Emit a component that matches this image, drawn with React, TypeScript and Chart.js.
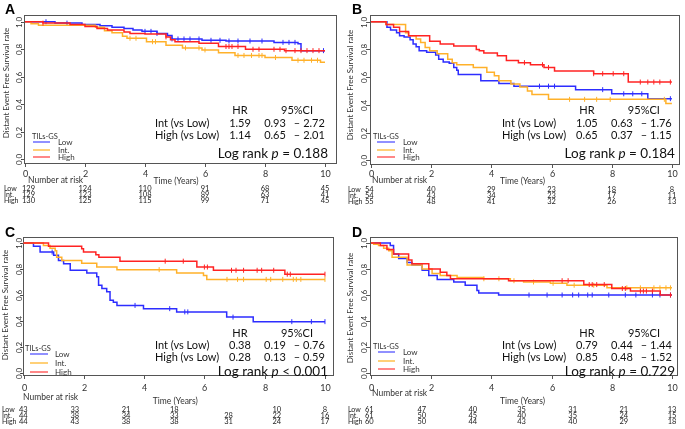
import React, { useEffect, useRef } from 'react';
import { Chart, registerables } from 'chart.js';

Chart.register(...registerables);

const FONT = 'Lato, "Open Sans", sans-serif';
const LETTER_FONT = '"Liberation Sans", Arial, sans-serif';

// ---------- shared ----------
const timeTicks = [0, 2, 4, 6, 8, 10];
const survTicks = [0, 0.2, 0.4, 0.6, 0.8, 1.0];
const groupLabels = ['Low', 'Int.', 'High'];
const lineColors = ['#2d2dff', '#ffb12a', '#ff2323'];
const legendColors = ['#6b6bff', '#ffc04a', '#ff6060'];
const yTitle = 'Distant Event Free Survival rate';
const xTitle = 'Time (Years)';
const riskTitle = 'Number at risk';
const legendTitle = 'TILs-GS';
const hrRowLabels = ['Int (vs Low)', 'High (vs Low)'];

// ---------- Panel A ----------
const aLowT = [0, 1.0, 1.9, 2.5, 2.9, 3.3, 3.6, 3.9, 4.4, 4.75, 4.9, 5.9, 6.7, 8.3, 9.1, 9.2, 10];
const aLowS = [1, 0.99, 0.98, 0.97, 0.96, 0.95, 0.94, 0.93, 0.915, 0.9, 0.875, 0.865, 0.86, 0.85, 0.84, 0.79, 0.79];
const aLowC = [0.7, 1.4, 4.0, 4.2, 4.4, 4.9, 5.1, 5.3, 5.5, 5.8, 6.2, 6.5, 6.8, 7.1, 7.5, 7.9, 8.6, 8.8, 9.0, 9.95];
const aIntT = [0, 0.2, 0.45, 2.35, 2.65, 2.9, 3.25, 3.4, 4.05, 4.7, 5.25, 5.9, 6.45, 7.0, 8.0, 8.9, 9.85, 10];
const aIntS = [1, 0.985, 0.975, 0.96, 0.935, 0.92, 0.895, 0.88, 0.855, 0.83, 0.81, 0.795, 0.775, 0.755, 0.74, 0.72, 0.705, 0.705];
const aIntC = [3.5, 3.7, 4.25, 4.35, 5.35, 5.8, 6.0, 7.1, 7.3, 7.55, 7.8, 7.9, 8.35, 9.1, 9.3, 9.55, 9.75];
const aHighT = [0, 0.6, 1.5, 2.0, 2.4, 2.75, 3.3, 3.5, 4.0, 4.7, 4.85, 5.0, 5.8, 6.45, 7.35, 8.65, 10];
const aHighS = [1, 0.99, 0.98, 0.965, 0.95, 0.94, 0.925, 0.915, 0.91, 0.89, 0.87, 0.855, 0.843, 0.82, 0.8, 0.79, 0.79];
const aHighC = [0.6, 4.7, 6.7, 6.8, 6.9, 7.1, 7.6, 7.8, 8.3, 8.5, 8.7, 9.0, 9.2, 9.4, 9.6, 9.8];
const aHR = ['1.59', '1.14'];
const aCILow = ['0.93', '0.65'];
const aCIHigh = ['2.72', '2.01'];
const aP = '= 0.188';
const aRiskTimes = [0, 2, 4, 6, 8, 10];
const aRiskLow = [129, 124, 110, 91, 68, 45];
const aRiskInt = [129, 123, 108, 89, 63, 41];
const aRiskHigh = [130, 125, 115, 99, 71, 45];

// ---------- Panel B ----------
const bLowT = [0, 0.53, 0.65, 0.85, 0.95, 1.1, 1.3, 1.4, 1.5, 1.6, 1.85, 2.15, 2.25, 2.4, 2.6, 2.75, 2.85, 2.9, 3.65, 4.25, 4.75, 6.8, 8.0, 9.2, 10];
const bLowS = [1, 0.96, 0.94, 0.92, 0.9, 0.89, 0.87, 0.84, 0.82, 0.79, 0.78, 0.76, 0.73, 0.71, 0.7, 0.67, 0.65, 0.62, 0.575, 0.555, 0.535, 0.51, 0.48, 0.445, 0.445];
const bLowC = [5.6, 5.9, 6.1, 7.7, 8.4, 8.7, 9.0, 9.95];
const bIntT = [0, 0.5, 1.15, 1.25, 1.5, 1.65, 1.8, 1.95, 2.2, 2.55, 2.7, 2.85, 3.4, 3.85, 4.1, 4.25, 4.65, 4.95, 5.2, 5.35, 5.9, 9.8, 10];
const bIntS = [1, 0.98, 0.92, 0.9, 0.875, 0.85, 0.815, 0.79, 0.77, 0.73, 0.705, 0.69, 0.67, 0.635, 0.61, 0.575, 0.55, 0.53, 0.5, 0.475, 0.44, 0.41, 0.41];
const bIntC = [6.6, 7.1, 7.5, 7.95, 9.75];
const bHighT = [0, 0.5, 0.75, 0.95, 1.25, 1.95, 2.3, 2.75, 3.5, 3.6, 3.75, 4.2, 4.5, 4.9, 5.3, 5.75, 6.1, 7.4, 8.55, 10];
const bHighS = [1, 0.98, 0.96, 0.93, 0.9, 0.86, 0.84, 0.825, 0.8, 0.79, 0.775, 0.755, 0.72, 0.705, 0.69, 0.67, 0.645, 0.625, 0.565, 0.565];
const bHighC = [5.1, 5.7, 5.9, 7.4, 7.7, 8.05, 8.4, 8.95, 9.2, 9.4, 9.6, 9.95];
const bHR = ['1.05', '0.65'];
const bCILow = ['0.63', '0.37'];
const bCIHigh = ['1.76', '1.15'];
const bP = '= 0.184';
const bRiskTimes = [0, 2, 4, 6, 8, 10];
const bRiskLow = [54, 40, 29, 23, 18, 8];
const bRiskInt = [54, 43, 34, 23, 17, 11];
const bRiskHigh = [55, 48, 41, 32, 26, 13];

// ---------- Panel C ----------
const cLowT = [0, 0.33, 0.55, 1.0, 1.16, 1.33, 1.55, 2.1, 2.43, 2.49, 2.6, 2.76, 2.87, 2.98, 3.1, 3.98, 5.08, 6.74, 7.62, 10];
const cLowS = [1, 0.975, 0.93, 0.905, 0.865, 0.84, 0.79, 0.77, 0.74, 0.675, 0.65, 0.625, 0.56, 0.545, 0.52, 0.495, 0.47, 0.43, 0.395, 0.395];
const cLowC = [0.95, 3.7, 4.85, 5.35, 5.45, 6.95, 8.9, 9.55, 10];
const cIntT = [0, 0.66, 0.88, 1.05, 1.1, 1.27, 1.93, 2.43, 3.1, 5.08, 5.97, 6.08, 10];
const cIntS = [1, 0.98, 0.96, 0.94, 0.89, 0.865, 0.845, 0.815, 0.795, 0.77, 0.75, 0.72, 0.72];
const cIntC = [4.5, 6.75, 7.1, 7.3, 8.05, 8.2, 8.6, 8.95, 9.05, 9.2, 10];
const cHighT = [0, 0.83, 1.93, 1.99, 2.4, 2.5, 3.2, 5.75, 6.3, 8.67, 10];
const cHighS = [1, 0.975, 0.955, 0.93, 0.91, 0.89, 0.86, 0.815, 0.79, 0.76, 0.76];
const cHighC = [4.7, 5.3, 6.0, 6.1, 6.9, 7.05, 7.3, 7.75, 7.9, 8.3, 8.75, 8.85, 10];
const cHR = ['0.38', '0.28'];
const cCILow = ['0.19', '0.13'];
const cCIHigh = ['0.76', '0.59'];
const cP = '< 0.001';
const cRiskTimes = [0, 1.7, 3.4, 5.0, 6.8, 8.4, 10];
const cRiskLow = [43, 33, 21, 18, null, 10, 8];
const cRiskInt = [44, 38, 34, 33, 28, 22, 16];
const cRiskHigh = [44, 43, 38, 38, 31, 24, 17];

// ---------- Panel D ----------
const dLowT = [0, 0.64, 0.75, 0.92, 1.2, 1.36, 1.7, 1.92, 2.2, 2.75, 3.13, 3.52, 3.58, 4.24, 10];
const dLowS = [1, 0.98, 0.915, 0.88, 0.85, 0.83, 0.79, 0.75, 0.72, 0.7, 0.675, 0.635, 0.615, 0.6, 0.6];
const dLowC = [5.25, 5.85, 6.35, 6.7, 6.9, 7.2, 7.35, 7.9, 8.45, 8.8, 9.35, 9.6, 9.95];
const dIntT = [0, 0.09, 0.25, 0.42, 0.59, 0.7, 1.2, 1.7, 2.03, 2.3, 2.86, 3.74, 4.63, 5.07, 5.96, 6.51, 7.84, 10];
const dIntS = [1, 0.99, 0.98, 0.96, 0.94, 0.89, 0.83, 0.8, 0.765, 0.75, 0.735, 0.725, 0.71, 0.7, 0.69, 0.675, 0.655, 0.655];
const dIntC = [3.75, 4.25, 4.75, 5.4, 6.05, 6.75, 7.4, 8.5, 8.95, 9.4, 9.6, 9.8, 9.95];
const dHighT = [0, 0.31, 0.53, 0.75, 1.25, 1.36, 1.92, 2.3, 2.52, 2.64, 4.57, 7.07, 8.0, 8.62, 9.61, 10];
const dHighS = [1, 0.98, 0.95, 0.915, 0.87, 0.84, 0.8, 0.775, 0.75, 0.725, 0.71, 0.68, 0.65, 0.63, 0.6, 0.6];
const dHighC = [6.35, 6.55, 7.25, 7.35, 7.5, 7.75, 8.35, 8.45, 8.95, 9.05, 9.15, 9.35, 9.95];
const dHR = ['0.79', '0.85'];
const dCILow = ['0.44', '0.48'];
const dCIHigh = ['1.44', '1.52'];
const dP = '= 0.729';
const dRiskTimes = [0, 1.69, 3.38, 5.0, 6.7, 8.4, 10];
const dRiskLow = [61, 47, 40, 35, 31, 21, 13];
const dRiskInt = [61, 50, 45, 40, 35, 24, 15];
const dRiskHigh = [60, 50, 44, 43, 40, 29, 18];

// ---------- panel layouts ----------
type Series = { t: number[]; s: number[]; c: number[] };
type Layout = {
  x: number; y: number; w: number; h: number;
  pad: { left: number; top: number; right: number; bottom: number };
  xMin: number; xMax: number; yMin: number; yMax: number;
  letterX: number; letterY: number; yLabX: number; yTitleX: number; yTitleY: number;
  xLabY: number; timeY: number; narX: number; narY: number; rowLabX: number; firstColX: number; rowsY: number[];
  tilsX: number; tilsY: number; legX0: number; legX1: number; legTextX: number; legY: number[];
  hrHeadY: number; hrRowsY: number[]; lrY: number;
};
type PanelCfg = {
  letter: string; series: Series[]; hr: string[]; ciLow: string[]; ciHigh: string[]; p: string;
  riskTimes: number[]; risk: (number | null)[][]; lay: Layout;
};

const panels: PanelCfg[] = [
  {
    letter: 'A',
    series: [{ t: aLowT, s: aLowS, c: aLowC }, { t: aIntT, s: aIntS, c: aIntC }, { t: aHighT, s: aHighS, c: aHighC }],
    hr: aHR, ciLow: aCILow, ciHigh: aCIHigh, p: aP, riskTimes: aRiskTimes, risk: [aRiskLow, aRiskInt, aRiskHigh],
    lay: {
      x: 0, y: 0, w: 342, h: 210, pad: { left: 24, top: 15, right: 3, bottom: 46 },
      xMin: -0.033, xMax: 10.4, yMin: -0.034, yMax: 1.049,
      letterX: 5, letterY: 3, yLabX: 19, yTitleX: 6, yTitleY: 83,
      xLabY: 174, timeY: 181, narX: 28, narY: 180, rowLabX: 4, firstColX: 22, rowsY: [189, 195, 201],
      tilsX: 32, tilsY: 137, legX0: 33, legX1: 50, legTextX: 58, legY: [142, 150, 157],
      hrHeadY: 110, hrRowsY: [123, 135], lrY: 154,
    },
  },
  {
    letter: 'B',
    series: [{ t: bLowT, s: bLowS, c: bLowC }, { t: bIntT, s: bIntS, c: bIntC }, { t: bHighT, s: bHighS, c: bHighC }],
    hr: bHR, ciLow: bCILow, ciHigh: bCIHigh, p: bP, riskTimes: bRiskTimes, risk: [bRiskLow, bRiskInt, bRiskHigh],
    lay: {
      x: 342, y: 0, w: 343, h: 210, pad: { left: 28, top: 15, right: 5, bottom: 45 },
      xMin: -0.033, xMax: 10.27, yMin: -0.034, yMax: 1.049,
      letterX: 10, letterY: 3, yLabX: 22, yTitleX: 8, yTitleY: 85,
      xLabY: 174, timeY: 181, narX: 30, narY: 180, rowLabX: 6, firstColX: 23, rowsY: [190, 196, 202],
      tilsX: 31, tilsY: 137, legX0: 35, legX1: 53, legTextX: 61, legY: [142, 150, 157],
      hrHeadY: 110, hrRowsY: [123, 135], lrY: 154,
    },
  },
  {
    letter: 'C',
    series: [{ t: cLowT, s: cLowS, c: cLowC }, { t: cIntT, s: cIntS, c: cIntC }, { t: cHighT, s: cHighS, c: cHighC }],
    hr: cHR, ciLow: cCILow, ciHigh: cCIHigh, p: cP, riskTimes: cRiskTimes, risk: [cRiskLow, cRiskInt, cRiskHigh],
    lay: {
      x: 0, y: 210, w: 342, h: 219, pad: { left: 23, top: 27, right: 8, bottom: 53 },
      xMin: -0.017, xMax: 10.3, yMin: -0.023, yMax: 1.046,
      letterX: 5, letterY: 16, yLabX: 19, yTitleX: 5, yTitleY: 95,
      xLabY: 178, timeY: 191, narX: 23, narY: 187, rowLabX: 2, firstColX: 19, rowsY: [200, 206, 212],
      tilsX: 25, tilsY: 139, legX0: 30, legX1: 48, legTextX: 55, legY: [144, 153, 162],
      hrHeadY: 123, hrRowsY: [135, 147], lrY: 162,
    },
  },
  {
    letter: 'D',
    series: [{ t: dLowT, s: dLowS, c: dLowC }, { t: dIntT, s: dIntS, c: dIntC }, { t: dHighT, s: dHighS, c: dHighC }],
    hr: dHR, ciLow: dCILow, ciHigh: dCIHigh, p: dP, riskTimes: dRiskTimes, risk: [dRiskLow, dRiskInt, dRiskHigh],
    lay: {
      x: 342, y: 210, w: 343, h: 219, pad: { left: 28, top: 27, right: 7, bottom: 53 },
      xMin: -0.033, xMax: 10.2, yMin: -0.023, yMax: 1.046,
      letterX: 10, letterY: 16, yLabX: 22, yTitleX: 8, yTitleY: 98,
      xLabY: 178, timeY: 191, narX: 30, narY: 183, rowLabX: 6, firstColX: 23, rowsY: [200, 206, 212],
      tilsX: 31, tilsY: 137, legX0: 36, legX1: 53, legTextX: 61, legY: [142, 151, 159],
      hrHeadY: 123, hrRowsY: [135, 147], lrY: 162,
    },
  },
];

function survAt(t: number[], s: number[], c: number): number {
  let v = s[0];
  for (let i = 0; i < t.length; i++) if (t[i] <= c) v = s[i];
  return v;
}

function makeDecor(p: PanelCfg) {
  const L = p.lay;
  return {
    id: 'kmDecor' + p.letter,
    beforeDatasetsDraw(chart: any) {
      const { ctx, chartArea: a } = chart;
      ctx.save();
      ctx.strokeStyle = '#555';
      ctx.lineWidth = 1;
      ctx.strokeRect(Math.round(a.left) + 0.5, Math.round(a.top) + 0.5, Math.round(a.right - a.left) - 1, Math.round(a.bottom - a.top) - 1);
      ctx.restore();
    },
    afterDraw(chart: any) {
      const { ctx, chartArea: a, scales } = chart;
      const xs = scales.x;
      const ys = scales.y;
      ctx.save();
      // panel letter
      ctx.fillStyle = '#000';
      ctx.font = `bold 14px ${LETTER_FONT}`;
      ctx.textAlign = 'left';
      ctx.textBaseline = 'top';
      ctx.fillText(p.letter, L.letterX, L.letterY);

      // y axis ticks + labels
      ctx.strokeStyle = '#555';
      ctx.lineWidth = 1;
      ctx.fillStyle = '#333';
      ctx.font = `8px ${FONT}`;
      survTicks.forEach((v) => {
        const y = Math.round(ys.getPixelForValue(v)) + 0.5;
        ctx.beginPath();
        ctx.moveTo(a.left - 3, y);
        ctx.lineTo(a.left, y);
        ctx.stroke();
        ctx.save();
        ctx.translate(L.yLabX, y);
        ctx.rotate(-Math.PI / 2);
        ctx.textAlign = 'center';
        ctx.textBaseline = 'middle';
        ctx.fillText(v.toFixed(1), 0, 0);
        ctx.restore();
      });
      // y title
      ctx.save();
      ctx.translate(L.yTitleX, L.yTitleY);
      ctx.rotate(-Math.PI / 2);
      ctx.textAlign = 'center';
      ctx.textBaseline = 'middle';
      ctx.font = `8px ${FONT}`;
      ctx.fillStyle = '#333';
      ctx.fillText(yTitle, 0, 0);
      ctx.restore();

      // x axis ticks + labels
      ctx.font = `9px ${FONT}`;
      ctx.textAlign = 'center';
      ctx.textBaseline = 'middle';
      timeTicks.forEach((v) => {
        const x = Math.round(xs.getPixelForValue(v)) + 0.5;
        ctx.beginPath();
        ctx.moveTo(x, a.bottom);
        ctx.lineTo(x, a.bottom + 3);
        ctx.stroke();
        ctx.fillText(String(v), x, L.xLabY);
      });
      ctx.font = `8.5px ${FONT}`;
      ctx.fillText(xTitle, xs.getPixelForValue(5) + 1, L.timeY);
      ctx.textAlign = 'left';
      ctx.fillText(riskTitle, L.narX, L.narY);

      // number at risk
      ctx.fillStyle = '#222';
      p.risk.forEach((row, gi) => {
        ctx.textAlign = 'left';
        ctx.font = `7px ${FONT}`;
        ctx.fillText(groupLabels[gi], L.rowLabX, L.rowsY[gi]);
        ctx.font = `7.5px ${FONT}`;
        row.forEach((n, ci) => {
          if (n === null) return;
          if (ci === 0) {
            ctx.textAlign = 'left';
            ctx.fillText(String(n), L.firstColX, L.rowsY[gi]);
          } else {
            ctx.textAlign = 'center';
            ctx.fillText(String(n), xs.getPixelForValue(p.riskTimes[ci]), L.rowsY[gi]);
          }
        });
      });

      // legend
      ctx.textAlign = 'left';
      ctx.font = `7.5px ${FONT}`;
      ctx.fillStyle = '#333';
      ctx.fillText(legendTitle, L.tilsX, L.tilsY);
      ctx.font = `8px ${FONT}`;
      groupLabels.forEach((g, gi) => {
        ctx.strokeStyle = legendColors[gi];
        ctx.lineWidth = 1.5;
        ctx.beginPath();
        ctx.moveTo(L.legX0, L.legY[gi]);
        ctx.lineTo(L.legX1, L.legY[gi]);
        ctx.stroke();
        ctx.fillStyle = '#333';
        ctx.fillText(g, L.legTextX, L.legY[gi] + 0.5);
      });

      // HR table
      const px10 = xs.getPixelForValue(10);
      ctx.fillStyle = '#111';
      ctx.font = `11px ${FONT}`;
      ctx.textAlign = 'center';
      ctx.fillText('HR', px10 - 85, L.hrHeadY);
      ctx.fillText('95%CI', px10 - 28, L.hrHeadY);
      for (let r = 0; r < 2; r++) {
        const y = L.hrRowsY[r];
        ctx.textAlign = 'left';
        ctx.fillText(hrRowLabels[r], px10 - 170, y);
        ctx.textAlign = 'center';
        ctx.fillText(p.hr[r], px10 - 85, y);
        ctx.fillText(p.ciLow[r], px10 - 50, y);
        ctx.fillText('\u2013', px10 - 28, y);
        ctx.fillText(p.ciHigh[r], px10 - 11, y);
      }
      // log rank
      const f1 = `13.5px ${FONT}`;
      const f2 = `italic 13.5px ${FONT}`;
      const s1 = 'Log rank ';
      const s2 = 'p';
      const s3 = ' ' + p.p;
      ctx.font = f1;
      const w1 = ctx.measureText(s1).width;
      const w3 = ctx.measureText(s3).width;
      ctx.font = f2;
      const w2 = ctx.measureText(s2).width;
      const right = px10 + 3;
      let x0 = right - (w1 + w2 + w3);
      ctx.textAlign = 'left';
      ctx.font = f1;
      ctx.fillText(s1, x0, L.lrY);
      x0 += w1;
      ctx.font = f2;
      ctx.fillText(s2, x0, L.lrY);
      x0 += w2;
      ctx.font = f1;
      ctx.fillText(s3, x0, L.lrY);
      ctx.restore();
    },
  };
}

function Panel({ cfg }: { cfg: PanelCfg }) {
  const ref = useRef<HTMLCanvasElement>(null);
  useEffect(() => {
    const L = cfg.lay;
    const datasets: any[] = [];
    cfg.series.forEach((s, gi) => {
      datasets.push({
        label: groupLabels[gi],
        data: s.t.map((t, i) => ({ x: t, y: s.s[i] })),
        borderColor: lineColors[gi],
        borderWidth: 1.5,
        stepped: true,
        pointRadius: 0,
        fill: false,
        order: 3 - gi,
      });
      datasets.push({
        label: groupLabels[gi] + ' censored',
        data: s.c.map((c) => ({ x: c, y: survAt(s.t, s.s, c) })),
        showLine: false,
        pointStyle: 'line',
        rotation: 90,
        pointRadius: 2.5,
        pointBorderWidth: 1,
        pointBorderColor: lineColors[gi],
        borderColor: lineColors[gi],
        order: 3 - gi,
      });
    });
    const chart = new Chart(ref.current as HTMLCanvasElement, {
      type: 'line',
      data: { datasets },
      options: {
        responsive: false,
        maintainAspectRatio: false,
        animation: false,
        layout: { padding: L.pad },
        plugins: { legend: { display: false }, tooltip: { enabled: false } },
        scales: {
          x: { type: 'linear', display: false, min: L.xMin, max: L.xMax },
          y: { type: 'linear', display: false, min: L.yMin, max: L.yMax },
        },
      },
      plugins: [makeDecor(cfg)],
    } as any);
    return () => chart.destroy();
  }, [cfg]);
  const L = cfg.lay;
  return (
    <canvas
      ref={ref}
      width={L.w}
      height={L.h}
      style={{ position: 'absolute', left: L.x, top: L.y, width: L.w, height: L.h }}
    />
  );
}

export default function App() {
  return (
    <div style={{ position: 'fixed', left: 0, top: 0, width: 685, height: 429, background: '#fff', overflow: 'hidden' }}>
      {panels.map((p) => (
        <Panel key={p.letter} cfg={p} />
      ))}
    </div>
  );
}
